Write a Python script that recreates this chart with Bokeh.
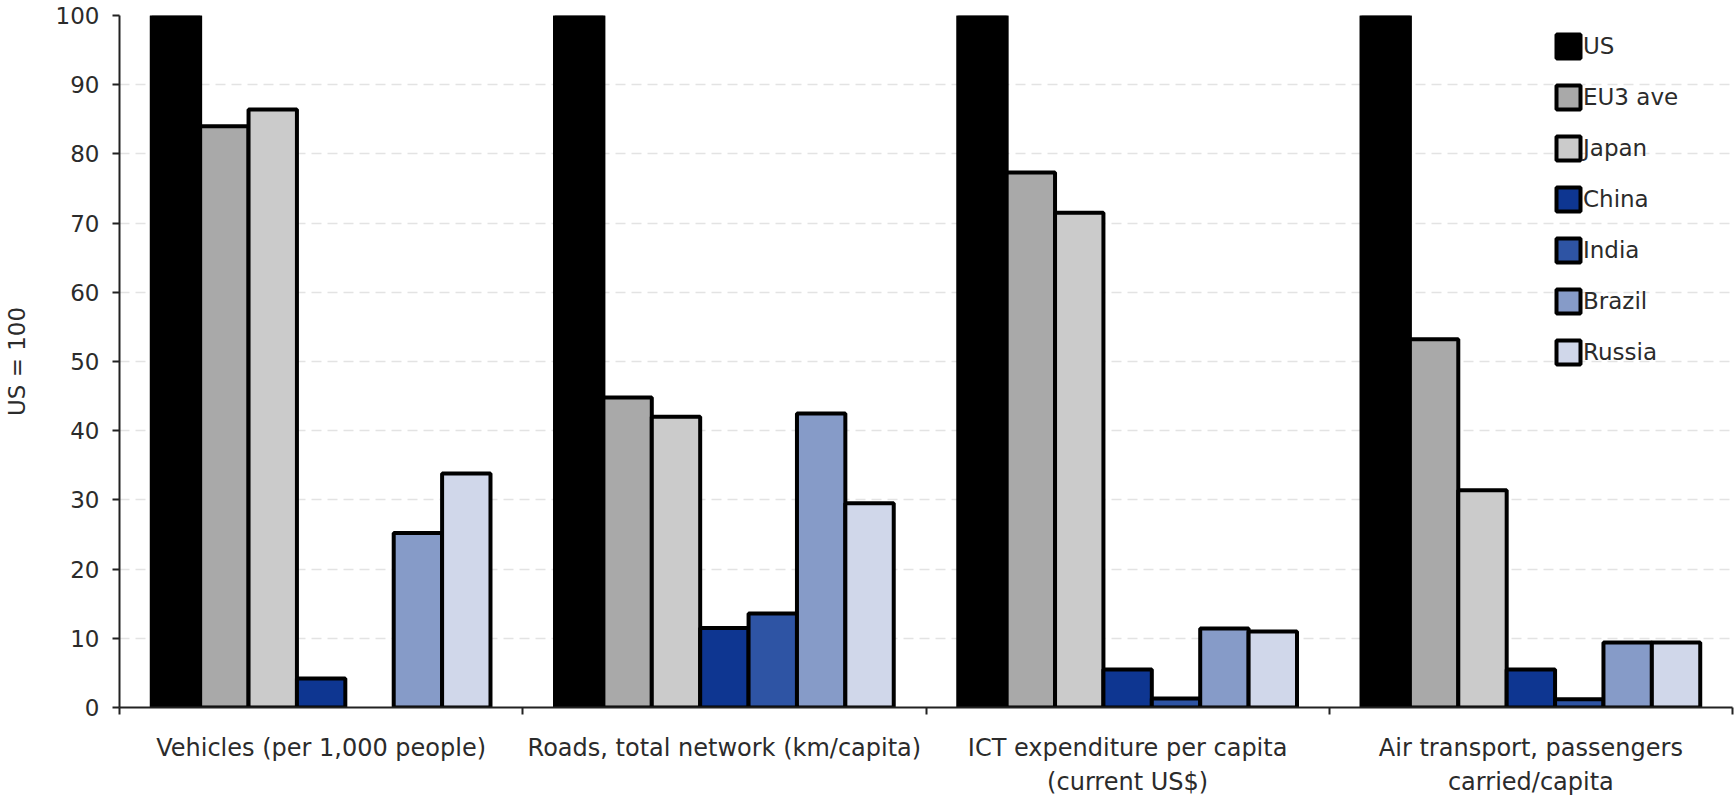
import math
from bokeh.plotting import figure
from bokeh.models import Range1d, FixedTicker, Legend, LegendItem
from bokeh.embed import file_html
from bokeh.resources import INLINE

categories = [
    "Vehicles (per 1,000 people)",
    "Roads, total network (km/capita)",
    "ICT expenditure per capita\n(current US$)",
    "Air transport, passengers\ncarried/capita",
]
series_names = ["US", "EU3 ave", "Japan", "China", "India", "Brazil", "Russia"]
us = [100, 100, 100, 100]
eu3_ave = [84.0, 44.8, 77.3, 53.2]
japan = [86.4, 42.0, 71.5, 31.4]
china = [4.2, 11.5, 5.5, 5.5]
india = [math.nan, 13.6, 1.3, 1.2]
brazil = [25.2, 42.5, 11.4, 9.4]
russia = [33.8, 29.5, 11.0, 9.4]
series_values = [us, eu3_ave, japan, china, india, brazil, russia]
series_colors = ["#000000", "#a9a9a9", "#cbcbcb", "#0e3691", "#2e54a4", "#869bc8", "#d0d7ea"]
y_ticks = [0, 10, 20, 30, 40, 50, 60, 70, 80, 90, 100]

FONT = "DejaVu Sans"
TXT = "#2b2b2b"
bar_w = 0.12
n_series = len(series_names)
centers = [i + 0.5 for i in range(len(categories))]
bounds = [float(i) for i in range(len(categories) + 1)]

p = figure(
    width=1734, height=799,
    output_backend="svg", toolbar_location=None,
    x_range=Range1d(0, len(categories)), y_range=Range1d(0, 100),
    min_border_left=117, min_border_right=2, min_border_top=15, min_border_bottom=92,
)
p.outline_line_color = None
p.background_fill_color = "white"

# grid
p.xgrid.grid_line_color = None
p.ygrid.ticker = FixedTicker(ticks=y_ticks)
p.ygrid.grid_line_color = "#e3e3e3"
p.ygrid.grid_line_width = 1.5
p.ygrid.grid_line_dash = "10 6"

# y axis
p.yaxis.ticker = FixedTicker(ticks=y_ticks)
p.yaxis.minor_tick_line_color = None
p.yaxis.major_tick_in = 0
p.yaxis.major_tick_out = 7
p.yaxis.major_tick_line_width = 2
p.yaxis.axis_line_width = 2
p.yaxis.axis_line_color = "#222222"
p.yaxis.major_tick_line_color = "#222222"
p.yaxis.major_label_text_font = FONT
p.yaxis.major_label_text_font_size = "23px"
p.yaxis.major_label_text_color = TXT
p.yaxis.major_label_standoff = 13
p.yaxis.axis_label = "US = 100"
p.yaxis.axis_label_text_font = FONT
p.yaxis.axis_label_text_font_size = "23px"
p.yaxis.axis_label_text_font_style = "normal"
p.yaxis.axis_label_text_color = TXT
p.yaxis.axis_label_standoff = 23

# x axis: labels at category centres, tick marks at category boundaries
xa = p.xaxis[0]
xa.ticker = FixedTicker(ticks=centers, minor_ticks=bounds)
xa.major_label_overrides = {c: lab for c, lab in zip(centers, categories)}
xa.major_tick_in = 0
xa.major_tick_out = 0
xa.minor_tick_in = 0
xa.minor_tick_out = 7
xa.minor_tick_line_width = 2
xa.minor_tick_line_color = "#222222"
xa.axis_line_width = 2
xa.axis_line_color = "#222222"
xa.major_label_text_font = FONT
xa.major_label_text_font_size = "24px"
xa.major_label_text_color = TXT
xa.major_label_text_line_height = 1.23
xa.major_label_standoff = 19

items = []
for i, (name, vals, col) in enumerate(zip(series_names, series_values, series_colors)):
    xs = [c + (i - (n_series - 1) / 2) * bar_w for c in centers]
    r = p.vbar(x=xs, top=vals, bottom=0, width=bar_w,
               fill_color=col, line_color="black", line_width=4)
    items.append(LegendItem(label=name, renderers=[r]))

legend = Legend(items=items, location=(1434, 340))
legend.background_fill_alpha = 0
legend.border_line_color = None
legend.padding = 0
legend.margin = 0
legend.spacing = 21
legend.glyph_width = 30
legend.glyph_height = 30
legend.label_height = 30
legend.label_standoff = 0
legend.label_text_font = FONT
legend.label_text_font_size = "23px"
legend.label_text_color = TXT
p.add_layout(legend)

open("out.html", "w").write(file_html(p, INLINE))
